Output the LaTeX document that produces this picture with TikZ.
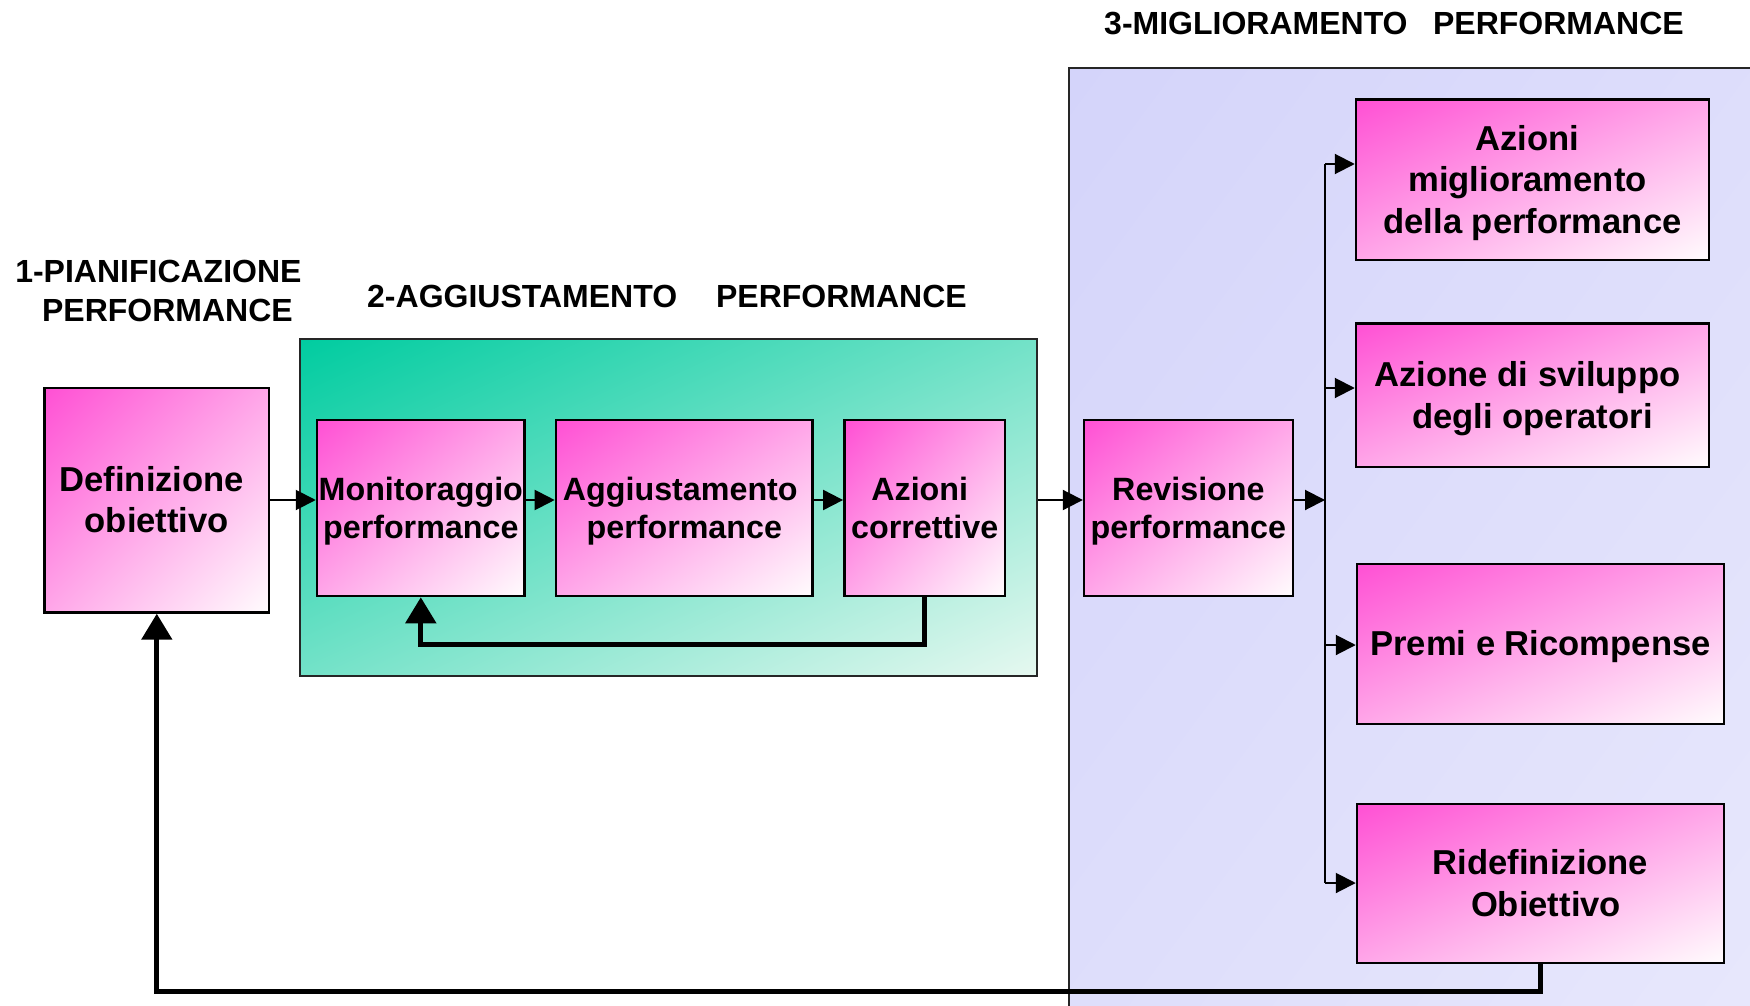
\documentclass[tikz,border=0pt]{standalone}
\usepackage{fontspec}
\setmainfont{Liberation Sans}
\usetikzlibrary{arrows.meta}
% diagonal (top-left -> bottom-right) linear gradients, corner to corner
\pgfdeclarefunctionalshading{pinkdiag}{\pgfpointorigin}{\pgfpoint{100bp}{100bp}}{}{%
  neg add 100 add 200 div dup dup 0.1608 mul 0.8314 add 3 1 roll 0.6745 mul 0.3137 add exch 0 mul 1 add 3 1 roll exch}
\pgfdeclarefunctionalshading{greendiag}{\pgfpointorigin}{\pgfpoint{100bp}{100bp}}{}{%
  neg add 100 add 200 div dup dup 0.3137 mul 0.6275 add 3 1 roll 0.1725 mul 0.8 add exch 0.902 mul 0 add 3 1 roll exch}
\pgfdeclarefunctionalshading{bluediag}{\pgfpointorigin}{\pgfpoint{100bp}{100bp}}{}{%
  neg add 100 add 200 div dup dup 0.0078 mul 0.9804 add 3 1 roll 0.0785 mul 0.8314 add exch 0.0785 mul 0.8314 add 3 1 roll exch}
\newcommand{\diagfill}[1]{%
  \pgfpointanchor{path picture bounding box}{south west}\pgfgetlastxy{\dfllx}{\dflly}%
  \pgfpointanchor{path picture bounding box}{north east}\pgfgetlastxy{\dfurx}{\dfury}%
  \pgfmathsetmacro{\dfsx}{(\dfurx-\dfllx)/100.375}%
  \pgfmathsetmacro{\dfsy}{(\dfury-\dflly)/100.375}%
  \pgfmathsetmacro{\dfcx}{0.5*\dfllx+0.5*\dfurx}%
  \pgfmathsetmacro{\dfcy}{0.5*\dflly+0.5*\dfury}%
  \pgftransformshift{\pgfpoint{\dfcx pt}{\dfcy pt}}%
  \pgftransformxscale{\dfsx}\pgftransformyscale{\dfsy}%
  \pgflowlevelsynccm
  \pgfuseshading{#1}}
\newcommand{\ls}{\rule[-0.212em]{0pt}{1.117em}}
\newcommand{\gap}[1]{\rule{#1}{0pt}}
\begin{document}
\begin{tikzpicture}[x=1pt,y=-1pt,
  box/.style={draw=black, line width=2.5pt, path picture={\diagfill{pinkdiag}},
    align=center, inner sep=0pt},
  bigtxt/.style={font=\bfseries\fontsize{34.6}{41.5}\selectfont},
  midtxt/.style={font=\bfseries\fontsize{32.25}{38}\selectfont},
  ttl/.style={font=\bfseries\fontsize{32}{38.5}\selectfont, inner sep=0pt},
  gpanel/.style={draw=black!85, line width=2pt, path picture={\diagfill{greendiag}}, inner sep=0pt},
  bpanel/.style={draw=black!85, line width=2pt, path picture={\diagfill{bluediag}}, inner sep=0pt},
  thinarrow/.style={line width=2pt, -{Triangle[length=20pt,width=20pt]}},
  thickarrow/.style={line width=5pt, -{Triangle[length=26pt,width=30pt]}},
  busline/.style={line width=2pt}
]
\fill[white] (0,0) rectangle (1750,1006);
\useasboundingbox (0,0) rectangle (1750,1006);

% panels
\node[gpanel, minimum width=737pt, minimum height=337pt] (gp) at (668.5,507.5) {};
\node[bpanel, anchor=north west, minimum width=720pt, minimum height=970pt] (bp) at (1068,67) {};

% titles
\node[ttl, align=center] (t1) at (158.4,291) {1-PIANIFICAZIONE\\\gap{18pt}PERFORMANCE};
\node[ttl, anchor=base west] (t2) at (367,307) {2-AGGIUSTAMENTO\hspace{39pt}PERFORMANCE};
\node[ttl, anchor=base west] (t3) at (1104,34.5) {3-MIGLIORAMENTO\hspace{25.5pt}PERFORMANCE};

% boxes
\node[box, bigtxt, minimum width=224.4pt, minimum height=224.5pt] (def) at (156.8,500.2)
  {\ls Definizione\gap{10pt}\\\ls obiettivo};
\node[box, midtxt, minimum width=207.6pt, minimum height=176pt] (mon) at (420.8,508)
  {\ls Monitoraggio\\\ls performance};
\node[box, midtxt, minimum width=256.7pt, minimum height=176pt] (agg) at (684.3,508)
  {\ls Aggiustamento\gap{8pt}\\\ls performance};
\node[box, midtxt, minimum width=160.7pt, minimum height=176pt] (corr) at (924.7,508)
  {\ls Azioni\gap{10pt}\\\ls correttive};
\node[box, midtxt, minimum width=208.7pt, minimum height=176pt] (rev) at (1188.4,508)
  {\ls Revisione\\\ls performance};
\node[box, bigtxt, minimum width=353pt, minimum height=160.5pt] (am) at (1532.5,179.8)
  {\ls Azioni\gap{10pt}\\\ls miglioramento\gap{10pt}\\\ls della performance};
\node[box, bigtxt, minimum width=353pt, minimum height=143.5pt] (as) at (1532.5,395.3)
  {\ls Azione di sviluppo\gap{10pt}\\\ls degli operatori};
\node[box, bigtxt, minimum width=367pt, minimum height=160pt] (pr) at (1540.5,644)
  {\ls Premi e Ricompense};
\node[box, bigtxt, minimum width=367pt, minimum height=159pt] (rid) at (1540.5,883.5)
  {\ls Ridefinizione\\\ls\gap{11pt}Obiettivo};

% helper coordinates
\coordinate (r) at (0,500);
\coordinate (b1) at (1325,164);
\coordinate (b2) at (1325,388);
\coordinate (b3) at (1325,645);
\coordinate (b4) at (1325,883);
\coordinate (f1) at (0,644);
\coordinate (f2) at (0,991);

% main flow
\draw[thinarrow] (def.east |- r) -- (mon.west |- r);
\draw[thinarrow] (mon.east |- r) -- (agg.west |- r);
\draw[thinarrow] (agg.east |- r) -- (corr.west |- r);
\draw[thinarrow] (gp.east |- r) -- (rev.west |- r);
\draw[thinarrow] (rev.east |- r) -- (b1 |- r);

% bus
\draw[busline] (b1) -- (b4);
\draw[thinarrow] (b1) -- (am.west |- b1);
\draw[thinarrow] (b2) -- (as.west |- b2);
\draw[thinarrow] (b3) -- (pr.west |- b3);
\draw[thinarrow] (b4) -- (rid.west |- b4);

% feedback loops
\draw[thickarrow] (corr.south) -- (corr.south |- f1) -- (mon.south |- f1) -- (mon.south);
\draw[thickarrow] (rid.south) -- (rid.south |- f2) -- (def.south |- f2) -- (def.south);
\end{tikzpicture}
\end{document}
